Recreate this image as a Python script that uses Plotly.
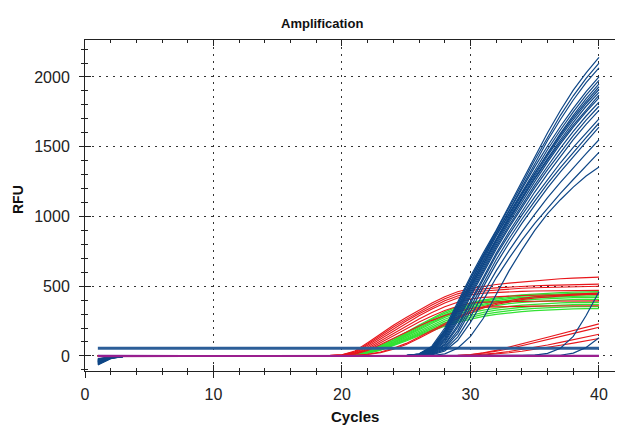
import plotly.graph_objects as go

CYCLES = list(range(1, 41))

# ---- blue family (fast amplifiers + two late ones) ----
BLUE_C1 = [-30, -45, -20, -55, -38, -62, -25, -50, -35, -42, -28, -58, -33, -47, -22, -40, -52, -36, -44, -65, -30, -40]
BLUE_C2 = [-8, -12, -5, -15, -10, -18, -6, -14, -9, -11, -7, -16, -9, -13, -6, -10, -14, -9, -12, -20, -8, -10]
BLUE_FLAT = [-3, -1, 0, 0, 0, 0, 0, 0, 1, 3, 4, 2, 3, 1, -2, -4, -1, 0, 0, 0, 0, 1]  # cycles 3-24
BLUE_TAILS = [  # cycles 25-40
    [3, 15, 70, 200, 390, 570, 740, 900, 1075, 1250, 1430, 1600, 1760, 1905, 2030, 2140],
    [3, 14, 62, 185, 370, 555, 725, 890, 1060, 1230, 1405, 1570, 1725, 1865, 1990, 2100],
    [2, 12, 55, 170, 350, 535, 710, 875, 1045, 1215, 1385, 1545, 1695, 1835, 1960, 2065],
    [3, 13, 60, 180, 365, 550, 720, 880, 1040, 1200, 1355, 1505, 1645, 1775, 1895, 2000],
    [2, 11, 50, 160, 335, 520, 695, 860, 1020, 1175, 1330, 1480, 1620, 1750, 1870, 1975],
    [2, 10, 45, 150, 320, 500, 675, 840, 1000, 1155, 1310, 1455, 1595, 1725, 1845, 1950],
    [2, 12, 55, 170, 350, 530, 700, 860, 1015, 1165, 1310, 1450, 1585, 1710, 1825, 1930],
    [2, 9, 40, 140, 305, 485, 660, 825, 985, 1140, 1290, 1435, 1570, 1695, 1810, 1910],
    [1, 8, 36, 130, 290, 470, 645, 810, 970, 1125, 1275, 1415, 1550, 1675, 1790, 1890],
    [2, 10, 46, 150, 320, 500, 670, 830, 985, 1130, 1270, 1405, 1535, 1655, 1765, 1870],
    [1, 7, 33, 120, 275, 455, 630, 795, 955, 1105, 1250, 1390, 1520, 1640, 1750, 1850],
    [1, 7, 30, 110, 260, 440, 615, 780, 935, 1085, 1225, 1360, 1490, 1610, 1720, 1820],
    [1, 6, 27, 100, 245, 425, 600, 765, 920, 1065, 1205, 1335, 1460, 1580, 1690, 1790],
    [1, 5, 22, 85, 220, 395, 570, 735, 890, 1035, 1175, 1305, 1430, 1550, 1660, 1760],
    [1, 5, 20, 78, 205, 380, 555, 720, 870, 1010, 1140, 1265, 1385, 1495, 1600, 1700],
    [1, 4, 17, 65, 180, 350, 525, 690, 840, 980, 1110, 1235, 1350, 1460, 1565, 1670],
    [1, 3, 14, 55, 160, 320, 495, 660, 810, 950, 1080, 1205, 1320, 1430, 1535, 1640],
    [0, 3, 11, 45, 135, 280, 450, 610, 755, 890, 1015, 1135, 1245, 1350, 1450, 1550],
    [0, 2, 8, 35, 110, 240, 400, 560, 700, 830, 950, 1060, 1165, 1265, 1365, 1460],
    [0, 1, 3, 15, 55, 140, 270, 440, 610, 760, 900, 1020, 1120, 1210, 1290, 1355],
    [0, 0, 0, 0, 0, 0, 0, 0, 0, 2, 6, 18, 55, 140, 290, 460],
    [0, 0, 0, 0, 0, 0, 0, 0, 0, 0, 0, 0, 5, 20, 60, 130],
]

# ---- red family ----
RED_FLAT = [1, 0, 0, 0, 0, 0, 0, 0, 0, 0, 1, 2, 1, 0, -1, 0, 0]  # cycles 1-17
RED_TAILS = [  # cycles 18-40
    [1, 3, 9, 35, 95, 160, 220, 275, 330, 380, 425, 460, 483, 500, 512, 522, 531, 539, 546, 553, 558, 562, 565],
    [1, 3, 8, 30, 85, 148, 208, 262, 315, 365, 410, 445, 468, 481, 488, 494, 499, 503, 506, 509, 511, 513, 515],
    [1, 2, 7, 26, 76, 136, 195, 250, 302, 350, 395, 430, 453, 466, 474, 480, 485, 489, 492, 495, 497, 499, 500],
    [1, 2, 6, 22, 66, 122, 180, 235, 288, 336, 380, 415, 438, 450, 456, 460, 463, 465, 466, 467, 468, 469, 470],
    [0, 2, 5, 18, 55, 108, 163, 215, 265, 312, 352, 385, 408, 420, 426, 430, 433, 435, 436, 437, 438, 439, 440],
    [0, 1, 4, 15, 47, 95, 146, 195, 243, 287, 325, 356, 378, 386, 389, 390, 391, 392, 393, 393, 394, 394, 395],
    [0, 0, 1, 4, 12, 28, 55, 90, 135, 185, 235, 280, 320, 352, 378, 398, 413, 424, 432, 438, 443, 447, 450],
    [0, 0, 1, 3, 10, 24, 48, 82, 126, 175, 225, 270, 310, 343, 369, 389, 404, 415, 423, 430, 436, 441, 445],
    [0, 1, 3, 12, 40, 82, 128, 172, 215, 255, 290, 318, 340, 350, 353, 355, 356, 357, 358, 358, 359, 359, 360],
    # late red
    [0, 0, 0, 0, 0, 0, 0, 0, 0, 0, 1, 4, 10, 22, 40, 62, 86, 110, 134, 158, 182, 206, 230],
    [0, 0, 0, 0, 0, 0, 0, 0, 0, 0, 1, 3, 8, 18, 33, 52, 73, 95, 117, 139, 161, 183, 205],
    [0, 0, 0, 0, 0, 0, 0, 0, 0, 0, 0, 2, 5, 11, 20, 32, 46, 62, 79, 97, 116, 135, 155],
    [0, 0, 0, 0, 0, 0, 0, 0, 0, 0, 0, 1, 3, 7, 14, 23, 34, 47, 61, 76, 92, 108, 125],
]

# ---- green family ----
GREEN_FLAT = [0, 0, 1, 0, 0, 0, 0, 0, 0, 0, 0, 1, 0, 0, 0, 0, 0]  # cycles 1-17
GREEN_TAILS = [  # cycles 18-40
    [0, 1, 4, 14, 38, 75, 120, 170, 222, 272, 316, 352, 380, 401, 417, 429, 438, 445, 450, 454, 457, 459, 460],
    [0, 1, 3, 12, 34, 70, 113, 162, 213, 262, 305, 341, 370, 392, 408, 420, 429, 436, 441, 445, 448, 449, 450],
    [0, 1, 3, 11, 31, 65, 107, 154, 204, 252, 295, 331, 360, 382, 398, 410, 419, 426, 431, 435, 438, 439, 440],
    [0, 1, 3, 10, 29, 61, 101, 147, 196, 243, 286, 322, 350, 372, 388, 400, 409, 416, 421, 425, 428, 429, 430],
    [0, 1, 2, 9, 27, 57, 96, 141, 188, 234, 276, 312, 340, 362, 378, 390, 399, 406, 411, 415, 418, 419, 420],
    [0, 1, 2, 9, 25, 53, 90, 133, 178, 222, 263, 298, 326, 347, 363, 375, 384, 391, 396, 400, 403, 404, 405],
    [0, 1, 2, 8, 23, 49, 84, 125, 168, 210, 249, 282, 308, 328, 343, 355, 364, 371, 376, 380, 383, 384, 385],
    [0, 1, 2, 8, 22, 47, 80, 119, 160, 200, 237, 268, 293, 313, 328, 340, 349, 356, 361, 365, 368, 369, 370],
    [0, 1, 2, 7, 20, 44, 76, 113, 152, 190, 225, 255, 279, 298, 313, 325, 334, 341, 346, 350, 353, 354, 355],
    [0, 1, 2, 7, 19, 41, 72, 107, 145, 181, 214, 243, 266, 284, 298, 309, 318, 325, 330, 334, 337, 339, 340],
]

# ---- negatives (purple) ----
PURPLE = [
    [2, 1, 0, 0, 0, 1, 0, 0, 0, 0, 1, 2, 1, 0, 0, 0, 0, 0, 0, 0, 0, 0, 0, 0, 0, 0, 0, 0, 0, 0, 0, 0, 0, 0, 0, 0, 0, 0, 0, 1],
    [-2, -1, 0, 0, 0, 0, 0, 0, 0, 0, 0, 1, 0, 0, 1, 0, 0, 0, 0, 0, 0, 0, 0, 0, 0, 0, 0, 0, 0, 0, 0, 0, 0, 0, 0, 0, 0, 0, 0, 0],
]
THRESHOLD = 55

X_TICKS = [0, 10, 20, 30, 40]
Y_TICKS = [0, 500, 1000, 1500, 2000]

BLUE = "#0e4686"
RED = "#e8161b"
GREEN = "#33e133"
PURPLE_C = ["#7a1e9c", "#9a1f8e"]
THRESH_C = "#2c5e98"
AX = "#222222"
FONT = "Liberation Sans, Arial, sans-serif"

fig = go.Figure()


def add(y, color, width):
    fig.add_trace(go.Scatter(x=CYCLES, y=y, mode="lines",
                             line=dict(color=color, width=width),
                             showlegend=False, hoverinfo="skip"))


for tail in GREEN_TAILS:
    add(GREEN_FLAT + tail, GREEN, 1.3)
for tail in RED_TAILS:
    add(RED_FLAT + tail, RED, 1.1)
fig.add_trace(go.Scatter(x=[CYCLES[0], CYCLES[-1]], y=[THRESHOLD, THRESHOLD], mode="lines",
                         line=dict(color=THRESH_C, width=3), showlegend=False, hoverinfo="skip"))
for c1, c2, tail in zip(BLUE_C1, BLUE_C2, BLUE_TAILS):
    add([c1, c2] + BLUE_FLAT + tail, BLUE, 1.2)
for p, col in zip(PURPLE, PURPLE_C):
    add(p, col, 2)

# overlay axis carrier (outside ticks + labels)
fig.add_trace(go.Scatter(x=[None], y=[None], xaxis="x2", yaxis="y2", showlegend=False, hoverinfo="skip"))

XR = [0, 41.87]
YR = [-108, 2265]
grid = dict(showgrid=True, gridcolor="#333333", gridwidth=1, griddash="2px,5px")

# the page body has an 8px margin, so the figure is sized/offset to compensate
fig.update_layout(
    width=615, height=418,
    margin=dict(l=77, r=0, t=32, b=55),
    paper_bgcolor="white", plot_bgcolor="white",
    font=dict(family=FONT, color=AX),
    xaxis=dict(range=XR, tickvals=X_TICKS, showticklabels=False, ticks="inside", ticklen=6,
               tickcolor=AX, showline=True, linecolor=AX, linewidth=1, mirror="allticks",
               zeroline=False, minor=dict(dtick=2, tick0=0, ticks="inside", ticklen=3, tickcolor=AX),
               **grid),
    yaxis=dict(range=YR, tickvals=Y_TICKS, showticklabels=False, ticks="inside", ticklen=6,
               tickcolor=AX, showline=True, linecolor=AX, linewidth=1, zeroline=False,
               minor=dict(dtick=100, tick0=0, ticks="inside", ticklen=3, tickcolor=AX),
               **grid),
    xaxis2=dict(range=XR, overlaying="x", anchor="y2", side="bottom", tickvals=X_TICKS,
                ticktext=[str(v) for v in X_TICKS], ticks="outside", ticklen=6, tickcolor=AX,
                showgrid=False, showline=False, zeroline=False,
                minor=dict(dtick=2, tick0=0, ticks="outside", ticklen=3, tickcolor=AX),
                tickfont=dict(size=16, family=FONT, color=AX), ticklabelstandoff=3),
    yaxis2=dict(range=YR, overlaying="y", anchor="x2", side="left", tickvals=Y_TICKS,
                ticktext=[str(v) for v in Y_TICKS], ticks="outside", ticklen=5, tickcolor=AX,
                showgrid=False, showline=False, zeroline=False,
                minor=dict(dtick=100, tick0=0, ticks="outside", ticklen=3, tickcolor=AX),
                tickfont=dict(size=16, family=FONT, color=AX), ticklabelstandoff=6),
    annotations=[
        dict(text="<b>Amplification</b>", xref="paper", yref="paper", x=0.4405, y=1.05,
             xanchor="center", yanchor="middle", showarrow=False, font=dict(size=13, family=FONT, color="#111")),
        dict(text="<b>RFU</b>", xref="paper", yref="paper", x=-0.1245, y=0.5166, textangle=-90,
             xanchor="center", yanchor="middle", showarrow=False, font=dict(size=14, family=FONT, color="#111")),
        dict(text="<b>Cycles</b>", xref="paper", yref="paper", x=0.502, y=-0.136,
             xanchor="center", yanchor="middle", showarrow=False, font=dict(size=15, family=FONT, color="#111")),
    ],
)

fig.write_html("out.html")
